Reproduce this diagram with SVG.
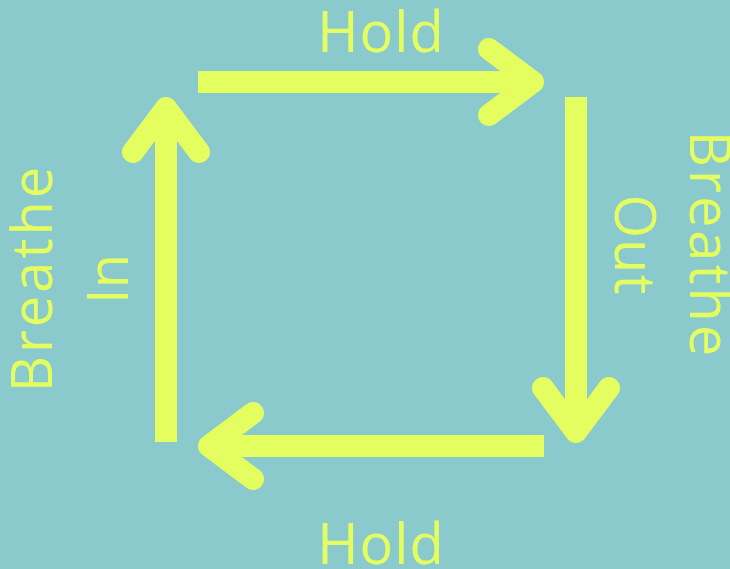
<svg xmlns="http://www.w3.org/2000/svg" width="730" height="569" viewBox="0 0 730 569">
  <style>
    .lbl { font-family: "Open Sans", "DejaVu Sans", sans-serif; font-size: 56px; fill: #E4FE60; text-anchor: middle; }
    .shaft { stroke: #E4FE60; stroke-width: 22; fill: none; stroke-linecap: butt; }
    .head { stroke: #E4FE60; stroke-width: 22; fill: none; stroke-linecap: round; stroke-linejoin: round; }
  </style>
  <rect width="730" height="569" fill="#8BCACC"/>
  <g id="connectors">
    <g id="arrow-top">
      <line class="shaft" x1="198" y1="82" x2="526" y2="82"/>
      <polyline class="head" points="489,49 533,82 489,115"/>
    </g>
    <g id="arrow-right">
      <line class="shaft" x1="576" y1="97" x2="576" y2="425"/>
      <polyline class="head" points="543,388 576,432 609,388"/>
    </g>
    <g id="arrow-bottom">
      <line class="shaft" x1="544" y1="446" x2="216" y2="446"/>
      <polyline class="head" points="253,413 209,446 253,479"/>
    </g>
    <g id="arrow-left">
      <line class="shaft" x1="166" y1="442" x2="166" y2="115"/>
      <polyline class="head" points="133,152 166,108 199,152"/>
    </g>
  </g>
  <g id="hold-top">
    <text class="lbl" x="381" y="52" letter-spacing="1">Hold</text>
  </g>
  <g id="hold-bottom">
    <text class="lbl" x="381" y="564" letter-spacing="1">Hold</text>
  </g>
  <g id="breathe-in">
    <text class="lbl" transform="translate(52,278) rotate(-90)" letter-spacing="3">Breathe</text>
    <text class="lbl" transform="translate(128,279) rotate(-90)">In</text>
  </g>
  <g id="breathe-out">
    <text class="lbl" transform="translate(690,245) rotate(90)" letter-spacing="3">Breathe</text>
    <text class="lbl" transform="translate(615,245) rotate(90)" letter-spacing="1">Out</text>
  </g>
</svg>
